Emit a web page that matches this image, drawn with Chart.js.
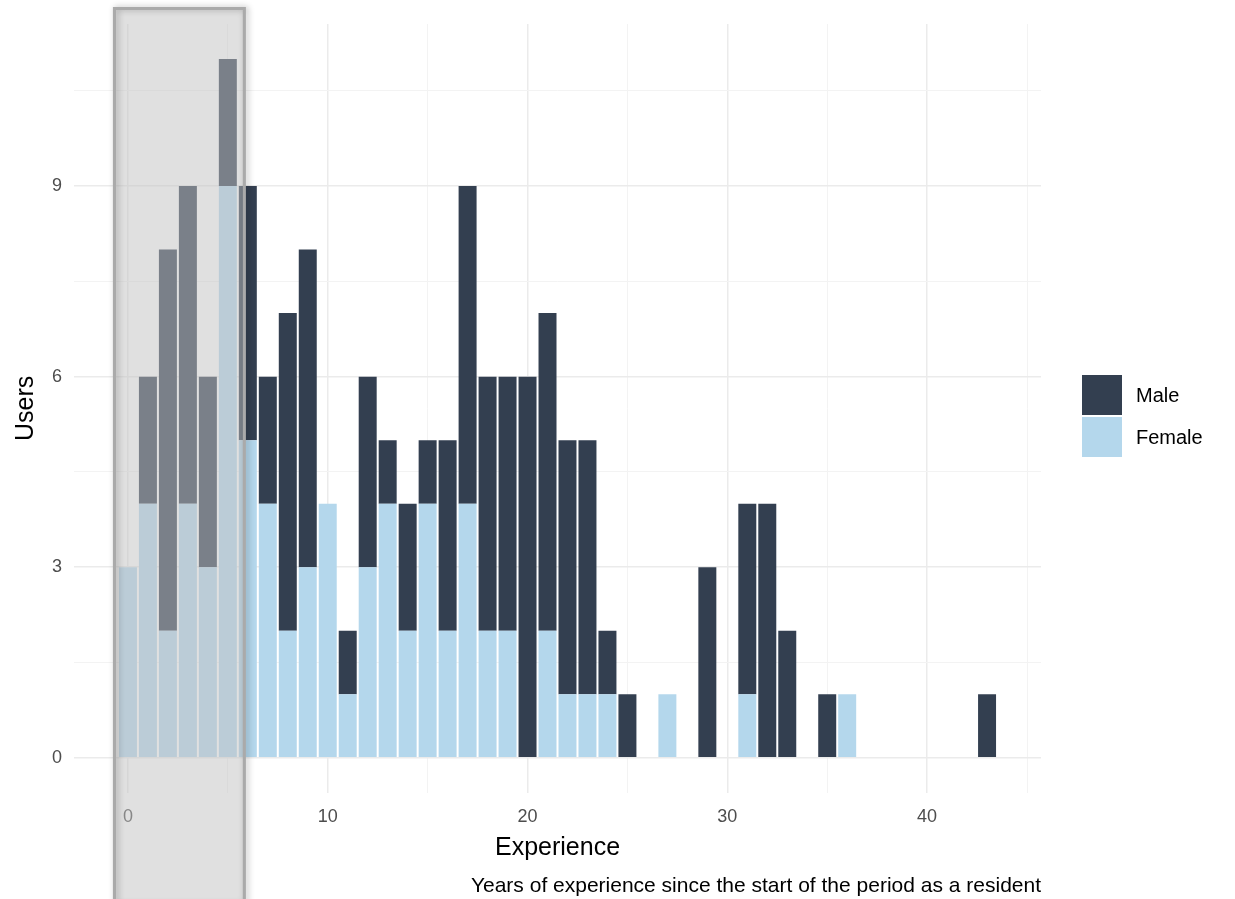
<!DOCTYPE html>
<html>
<head>
<meta charset="utf-8">
<script src="https://cdn.jsdelivr.net/npm/chart.js@4/dist/chart.umd.min.js"></script>
<style>
  body { margin: 0; background: #fff; }
  #wrap { position: relative; width: 1235px; height: 899px; }
  #legend { position: absolute; left: 1082px; top: 375px; font-family: 'Liberation Sans', Arial, sans-serif; font-size: 20px; color: #000; }
  .item { display: flex; align-items: center; height: 40px; margin-bottom: 2px; }
  .sw { width: 40px; height: 40px; margin-right: 14px; }
</style>
</head>
<body>
<div id="wrap">
  <canvas id="grafico" width="1235" height="899"></canvas>
  <div id="legend"></div>
</div>
<script>
// datos del histograma
var years = [0,1,2,3,4,5,6,7,8,9,10,11,12,13,14,15,16,17,18,19,20,21,22,23,24,25,26,27,28,29,30,31,32,33,34,35,36,37,38,39,40,41,42,43];
var female = [3,4,2,4,3,9,5,4,2,3, 4,1,3,4,2,4,2,4,2,2, 0,2,1,1,1,0,0,1,0,0, 0,1,0,0,0,0,1,0,0,0, 0,0,0,0];
var male   = [0,2,6,5,3,2,4,2,5,5, 0,1,3,1,2,1,3,5,4,4, 6,5,4,4,1,1,0,0,0,3, 0,3,4,2,0,1,0,0,0,0, 0,0,0,1];
var xTicks = [0,5,10,15,20,25,30,35,40,45];
var yTicks = [0,1.5,3,4.5,6,7.5,9,10.5];
var seriesNames = ['Male', 'Female'];
var seriesColors = ['#333f50', '#b4d7ec'];
var caption = 'Years of experience since the start of the period as a resident';

function pts(vals) {
    return years.map(function (y, i) { return { x: y, y: vals[i] }; });
}

// caja gris sobre los primeros años
var shadeBox = {
    id: 'shadeBox',
    afterDraw: function (chart) {
        var ctx = chart.ctx;
        var xs = chart.scales.x;
        var l = xs.getPixelForValue(-0.75);
        var r = xs.getPixelForValue(5.9);
        var t = 7, b = chart.height + 5;
        ctx.save();
        ctx.fillStyle = 'rgba(193,193,193,0.5)';
        ctx.fillRect(l, t, r - l, b - t);
        ctx.shadowColor = 'rgba(0,0,0,0.3)';
        ctx.shadowBlur = 6;
        ctx.shadowOffsetX = 2;
        ctx.strokeStyle = '#aaaaaa';
        ctx.lineWidth = 3;
        ctx.strokeRect(l + 1.5, t + 1.5, r - l - 3, b - t);
        ctx.restore();
    }
};

Chart.defaults.font.family = "'Liberation Sans', Arial, sans-serif";

var ctx = document.getElementById('grafico').getContext('2d');
var grafico = new Chart(ctx, {
    type: 'bar',
    data: {
        datasets: [{
            label: seriesNames[1],
            data: pts(female),
            backgroundColor: seriesColors[1]
        }, {
            label: seriesNames[0],
            data: pts(male),
            backgroundColor: seriesColors[0]
        }]
    },
    options: {
        responsive: false,
        animation: false,
        barPercentage: 0.9,
        categoryPercentage: 1,
        layout: { padding: { left: 0, right: 194, top: 24, bottom: 0 } },
        scales: {
            x: {
                type: 'linear',
                stacked: true,
                offset: false,
                min: -2.7,
                max: 45.7,
                afterBuildTicks: function (s) { s.ticks = xTicks.map(function (v) { return { value: v }; }); },
                afterFit: function (s) { s.height = 73; },
                border: { display: false },
                grid: {
                    offset: false,
                    drawTicks: false,
                    color: function (c) { return c.tick && c.tick.value % 10 === 0 ? '#ebebeb' : '#f3f3f3'; },
                    lineWidth: function (c) { return c.tick && c.tick.value % 10 === 0 ? 1.5 : 1; }
                },
                ticks: {
                    autoSkip: false,
                    maxRotation: 0,
                    padding: 13,
                    color: '#4d4d4d',
                    font: { size: 18 },
                    callback: function (v) { return v % 10 === 0 ? v : ''; }
                },
                title: {
                    display: true,
                    text: 'Experience',
                    color: '#000',
                    font: { size: 25 },
                    padding: { top: 0, bottom: 3 }
                }
            },
            y: {
                stacked: true,
                min: -0.55,
                max: 11.55,
                afterBuildTicks: function (s) { s.ticks = yTicks.map(function (v) { return { value: v }; }); },
                afterFit: function (s) { s.width = 74; },
                border: { display: false },
                grid: {
                    drawTicks: false,
                    color: function (c) { return c.tick && c.tick.value % 3 === 0 ? '#ebebeb' : '#f3f3f3'; },
                    lineWidth: function (c) { return c.tick && c.tick.value % 3 === 0 ? 1.5 : 1; }
                },
                ticks: {
                    padding: 12,
                    color: '#4d4d4d',
                    font: { size: 18 },
                    callback: function (v) { return v % 3 === 0 ? v : ''; }
                },
                title: {
                    display: true,
                    text: 'Users',
                    color: '#000',
                    font: { size: 25 },
                    padding: { top: 11, bottom: 0 }
                }
            }
        },
        plugins: {
            legend: { display: false },
            tooltip: { enabled: false },
            title: {
                display: true,
                position: 'bottom',
                align: 'end',
                text: caption,
                color: '#000',
                font: { size: 21, weight: 'normal' },
                padding: { top: 8, bottom: 0 }
            }
        }
    },
    plugins: [shadeBox]
});

// leyenda
var leg = document.getElementById('legend');
seriesNames.forEach(function (n, i) {
    var d = document.createElement('div');
    d.className = 'item';
    d.innerHTML = '<div class="sw" style="background:' + seriesColors[i] + '"></div><span>' + n + '</span>';
    leg.appendChild(d);
});
</script>
</body>
</html>
